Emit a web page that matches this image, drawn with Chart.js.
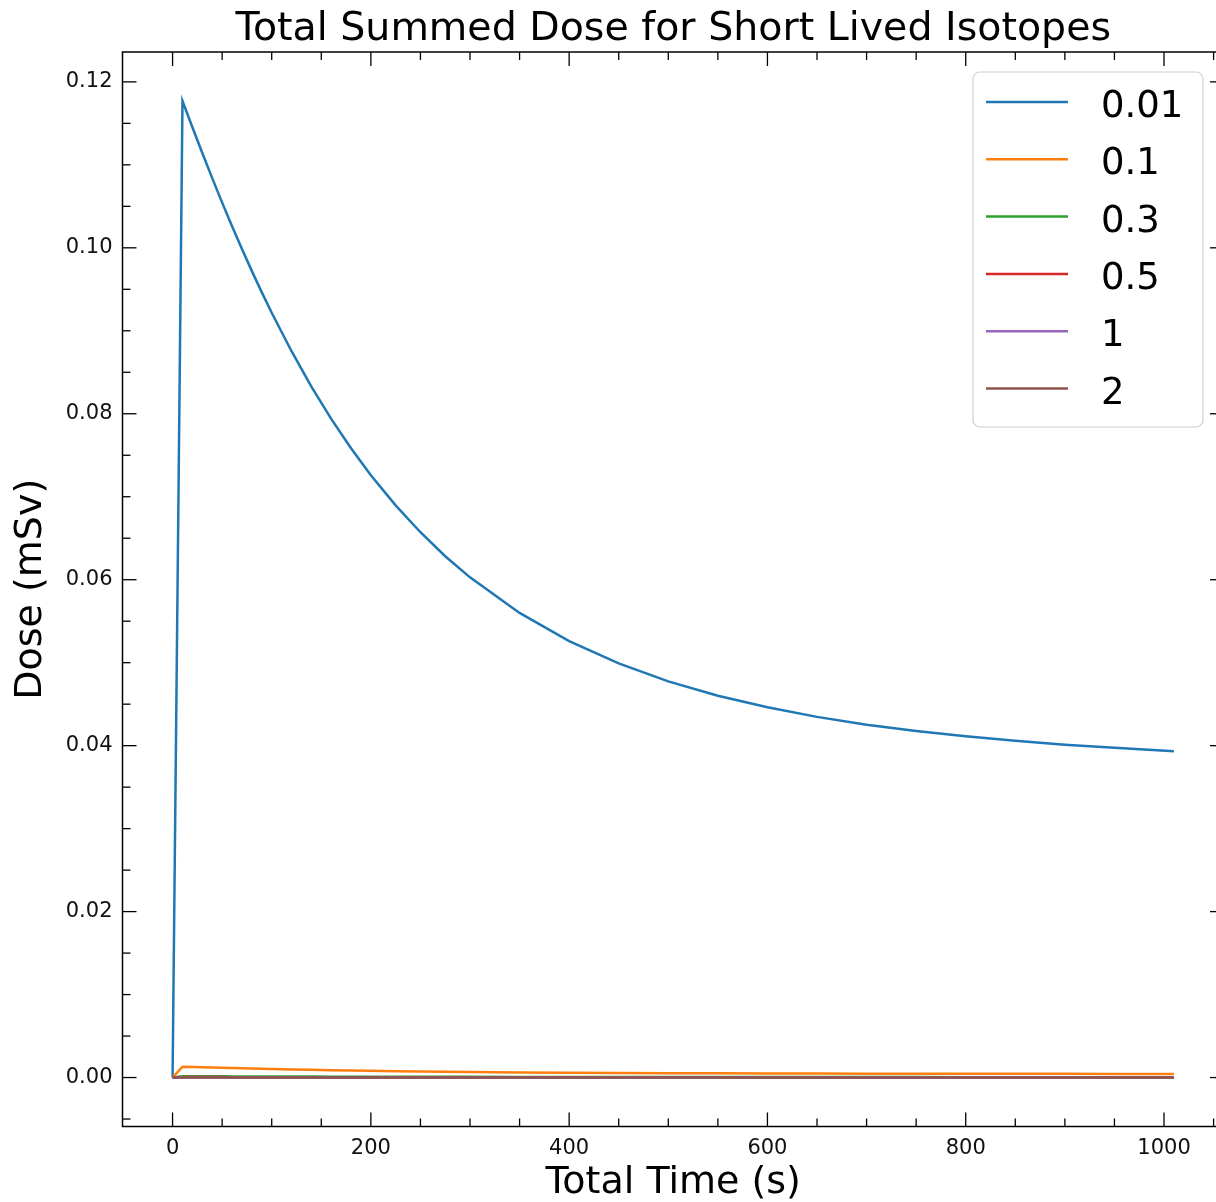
<!DOCTYPE html>
<html>
<head>
<meta charset="utf-8">
<script src="https://cdn.jsdelivr.net/npm/chart.js@4.4.1/dist/chart.umd.min.js"></script>
<style>
  html, body { margin: 0; padding: 0; background: #fff; overflow: hidden; }
  canvas { display: block; }
</style>
</head>
<body>
<canvas id="doseChart" width="1240" height="1202"></canvas>
<script>
// time steps (s)
const times = [0, 10, 20, 30, 40, 50, 60, 70, 80, 90, 100, 120, 140, 160, 180, 200, 225, 250, 275, 300, 350, 400, 450, 500, 550, 600, 650, 700, 750, 800, 850, 900, 950, 1010];

// dose (mSv) per series
const dose001 = [0, 0.1177, 0.11453, 0.11142, 0.10840, 0.10545, 0.10260, 0.09985, 0.09719, 0.09463, 0.09217, 0.08754, 0.08328, 0.07939, 0.07584, 0.07259, 0.06896, 0.06572, 0.06283, 0.06028, 0.05600, 0.05261, 0.04991, 0.04775, 0.04601, 0.04462, 0.04347, 0.04253, 0.04176, 0.04112, 0.04058, 0.04012, 0.03974, 0.03934];
const dose01 = [0, 0.00131, 0.00127, 0.00124, 0.00121, 0.00117, 0.00114, 0.00111, 0.00108, 0.00105, 0.00103, 0.00097, 0.00093, 0.00088, 0.00084, 0.00081, 0.00077, 0.00073, 0.00070, 0.00067, 0.00062, 0.00059, 0.00056, 0.00053, 0.00051, 0.00050, 0.00048, 0.00047, 0.00046, 0.00046, 0.00045, 0.00045, 0.00044, 0.00044];
const dose03 = [0, 0.00016, 0.00016, 0.00015, 0.00015, 0.00015, 0.00014, 0.00014, 0.00014, 0.00013, 0.00013, 0.00012, 0.00012, 0.00011, 0.00011, 0.00010, 0.00010, 0.00009, 0.00009, 0.00009, 0.00008, 0.00007, 0.00007, 0.00007, 0.00006, 0.00006, 0.00006, 0.00006, 0.00006, 0.00005, 0.00005, 0.00005, 0.00005, 0.00005];
const dose05 = [0, 0.00006, 0.00006, 0.00006, 0.00006, 0.00006, 0.00005, 0.00005, 0.00005, 0.00005, 0.00005, 0.00005, 0.00004, 0.00004, 0.00004, 0.00004, 0.00004, 0.00004, 0.00003, 0.00003, 0.00003, 0.00003, 0.00003, 0.00003, 0.00003, 0.00002, 0.00002, 0.00002, 0.00002, 0.00002, 0.00002, 0.00002, 0.00002, 0.00002];
const dose1 = [0, 0.00002, 0.00002, 0.00002, 0.00002, 0.00002, 0.00002, 0.00002, 0.00002, 0.00002, 0.00002, 0.00002, 0.00002, 0.00001, 0.00001, 0.00001, 0.00001, 0.00001, 0.00001, 0.00001, 0.00001, 0.00001, 0.00001, 0.00001, 0.00001, 0.00001, 0.00001, 0.00001, 0.00001, 0.00001, 0.00001, 0.00001, 0.00001, 0.00001];
const dose2 = [0, 0.000005, 0.000005, 0.000005, 0.000005, 0.000005, 0.000005, 0.000005, 0.000005, 0.000004, 0.000004, 0.000004, 0.000004, 0.000004, 0.000004, 0.000003, 0.000003, 0.000003, 0.000003, 0.000003, 0.000003, 0.000003, 0.000002, 0.000002, 0.000002, 0.000002, 0.000002, 0.000002, 0.000002, 0.000002, 0.000002, 0.000002, 0.000002, 0.000002];

const seriesLabels = ["0.01", "0.1", "0.3", "0.5", "1", "2"];
const seriesValues = [dose001, dose01, dose03, dose05, dose1, dose2];
const seriesColors = ["#1f77b4", "#ff7f0e", "#2ca02c", "#d62728", "#9467bd", "#8c564b"];

const xTicks = [0, 200, 400, 600, 800, 1000];
const yTicks = [0.00, 0.02, 0.04, 0.06, 0.08, 0.10, 0.12];

const FONT = "'DejaVu Sans', 'Liberation Sans', sans-serif";

const datasets = seriesLabels.map((label, i) => ({
    label: label,
    data: times.map((t, j) => ({ x: t, y: seriesValues[i][j] })),
    borderColor: seriesColors[i],
    backgroundColor: seriesColors[i],
    borderWidth: 2.5,
    pointRadius: 0,
    tension: 0,
    order: seriesLabels.length - i // last series drawn on top, like matplotlib
}));

// inward ticks on all four sides plus the axes box
const framePlugin = {
    id: "frame",
    afterDatasetsDraw(chart) {
        const { ctx, chartArea: a, scales: { x, y } } = chart;
        ctx.save();
        ctx.strokeStyle = "#000";
        ctx.lineWidth = 1.3;
        const line = (x1, y1, x2, y2) => { ctx.beginPath(); ctx.moveTo(x1, y1); ctx.lineTo(x2, y2); ctx.stroke(); };
        for (let v = -50; v <= 1100; v += 50) {
            const px = x.getPixelForValue(v);
            if (px < a.left + 1 || px > a.right - 1) continue;
            const len = xTicks.includes(v) ? 14 : 8;
            line(px, a.bottom, px, a.bottom - len);
            line(px, a.top, px, a.top + len);
        }
        for (let i = -2; i <= 26; i++) {
            const py = y.getPixelForValue(i * 0.005);
            if (py < a.top + 1 || py > a.bottom - 1) continue;
            const len = i % 4 === 0 ? 14 : 8;
            line(a.left, py, a.left + len, py);
            line(a.right, py, a.right - len, py);
        }
        ctx.lineWidth = 1.5;
        ctx.strokeRect(a.left, a.top, a.right - a.left, a.bottom - a.top);
        ctx.restore();
    }
};

// matplotlib style legend inside upper right + title over the axes
const legendTitlePlugin = {
    id: "legendTitle",
    afterDraw(chart) {
        const { ctx, chartArea: a } = chart;
        ctx.save();
        const boxW = 230, boxH = 355;
        const left = a.right - 21 - boxW, top = a.top + 20;
        ctx.beginPath();
        ctx.roundRect(left, top, boxW, boxH, 7);
        ctx.fillStyle = "rgba(255,255,255,0.85)";
        ctx.fill();
        ctx.strokeStyle = "#d0d0d0";
        ctx.lineWidth = 1.2;
        ctx.stroke();

        ctx.font = "37px " + FONT;
        ctx.textBaseline = "alphabetic";
        ctx.textAlign = "left";
        chart.data.datasets.forEach((ds, i) => {
            const cy = top + 30 + i * 57.3;
            ctx.strokeStyle = ds.borderColor;
            ctx.lineWidth = 2.5;
            ctx.beginPath();
            ctx.moveTo(left + 13, cy);
            ctx.lineTo(left + 95, cy);
            ctx.stroke();
            ctx.fillStyle = "#000";
            ctx.fillText(ds.label, left + 128, cy + 15);
        });

        ctx.font = "39.5px " + FONT;
        ctx.textAlign = "center";
        ctx.fillStyle = "#000";
        ctx.fillText("Total Summed Dose for Short Lived Isotopes", (a.left + a.right) / 2, 40);
        ctx.restore();
    }
};

new Chart(document.getElementById("doseChart"), {
    type: "line",
    data: { datasets: datasets },
    options: {
        responsive: false,
        animation: false,
        layout: { padding: { top: 52, right: 16, left: 0, bottom: 0 } },
        plugins: { legend: { display: false }, tooltip: { enabled: false } },
        scales: {
            x: {
                type: "linear",
                min: -50.5,
                max: 1060.5,
                afterBuildTicks: scale => { scale.ticks = xTicks.map(v => ({ value: v })); },
                afterFit: scale => { scale.height = 75.5; },
                grid: { display: false, drawTicks: false },
                border: { display: false },
                ticks: {
                    padding: 9,
                    color: "#111",
                    font: { family: FONT, size: 21 },
                    maxRotation: 0,
                    callback: v => String(v)
                },
                title: {
                    display: true,
                    text: "Total Time (s)",
                    color: "#000",
                    font: { family: FONT, size: 38, lineHeight: 1 },
                    padding: { top: 0, bottom: 0 }
                }
            },
            y: {
                type: "linear",
                min: -0.0059,
                max: 0.1236,
                afterBuildTicks: scale => { scale.ticks = yTicks.map(v => ({ value: v })); },
                afterFit: scale => { scale.width = 122.5; },
                grid: { display: false, drawTicks: false },
                border: { display: false },
                ticks: {
                    padding: 10,
                    color: "#111",
                    font: { family: FONT, size: 21 },
                    callback: v => Number(v).toFixed(2)
                },
                title: {
                    display: true,
                    text: "Dose (mSv)",
                    color: "#000",
                    font: { family: FONT, size: 38, lineHeight: 1 },
                    padding: { top: 12, bottom: 0 }
                }
            }
        }
    },
    plugins: [framePlugin, legendTitlePlugin]
});
</script>
</body>
</html>
